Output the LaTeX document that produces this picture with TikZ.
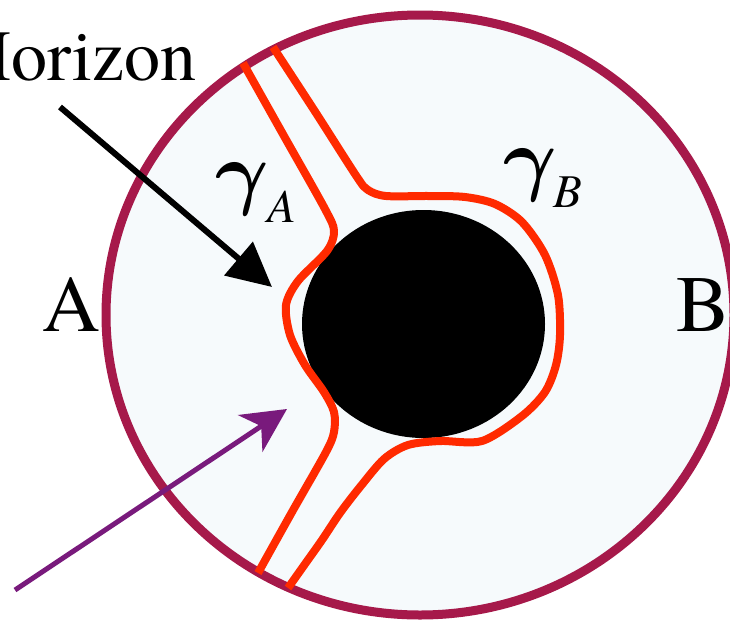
\documentclass[tikz,border=0pt]{standalone}
\usepackage{fix-cm}
\usepackage{fontspec}
\newfontfamily\termes{texgyretermes}[Extension=.otf, UprightFont=*-regular, ItalicFont=*-italic]
\usetikzlibrary{arrows.meta}
\definecolor{rim}{HTML}{A6194A}
\definecolor{discfill}{HTML}{F6FAFC}
\definecolor{geo}{HTML}{FF2A00}
\definecolor{purp}{HTML}{791A7C}
\tikzset{
  geodesic/.style={draw=geo, line width=8pt, line join=round},
  bigtext/.style={font={\termes\fontsize{80}{90}\selectfont}, inner sep=0pt, anchor=base},
  gammatext/.style={font={\boldmath\fontsize{82}{90}\selectfont}, inner sep=0pt, anchor=base},
  subtext/.style={font={\termes\itshape\fontsize{47}{55}\selectfont}, inner sep=0pt, anchor=base},
}
\begin{document}
\begin{tikzpicture}[x=1pt,y=-1pt]
\useasboundingbox (0,0) rectangle (730,621);
% region
\draw[rim, fill=discfill, line width=9pt] (420,315) ellipse [x radius=314, y radius=300];
% black hole
\fill[black] (423.5,324) ellipse [x radius=121.5, y radius=114];
% geodesic A
\draw[geodesic] plot[smooth, tension=0.5] coordinates {
 (243,63) (284,136) (325,209) (334,231) (327,251) (298,281) (286,305) (290,335)
 (305,365) (324,392) (334,412) (334,432) (326,452) (292,512) (258,573)};
% geodesic B
\draw[geodesic] plot[smooth, tension=0.5] coordinates {
 (273,47) (316,113) (357,177) (368,190) (386,196) (430,196) (465,197) (495,204)
 (522,222) (545,255) (558,295) (560,335) (556,365) (545,392) (522,416) (482,441)
 (440,441) (408,445) (384,459) (360,487) (340,513) (322,540) (305,564) (288,588)};
% labels
\node[bigtext, font={\termes\fontsize{72}{80}\selectfont}, anchor=base east] (horizon) at (197,80) {Horizon};
\node[bigtext] (labA) at (71,331) {A};
\node[bigtext] (labB) at (703,331) {B};
\node[gammatext] (gA) at (242,199) {$\gamma$};
\node[subtext, anchor=base west] (sA) at (267,222) {A};
\node[gammatext] (gB) at (530,185) {$\gamma$};
\node[subtext, anchor=base west] (sB) at (553,207) {B};
% arrows
\coordinate (hstart) at (60,107);
\coordinate (htip) at (272,287);
\draw[line width=6pt, -{Triangle[length=44pt,width=43pt]}] (hstart) -- (htip);
\coordinate (pstart) at (15,590);
\coordinate (ptip) at (287,409);
\draw[purp, line width=5pt, -{Stealth[length=44pt,width=44pt,inset=13pt]}] (pstart) -- (ptip);
\end{tikzpicture}
\end{document}
